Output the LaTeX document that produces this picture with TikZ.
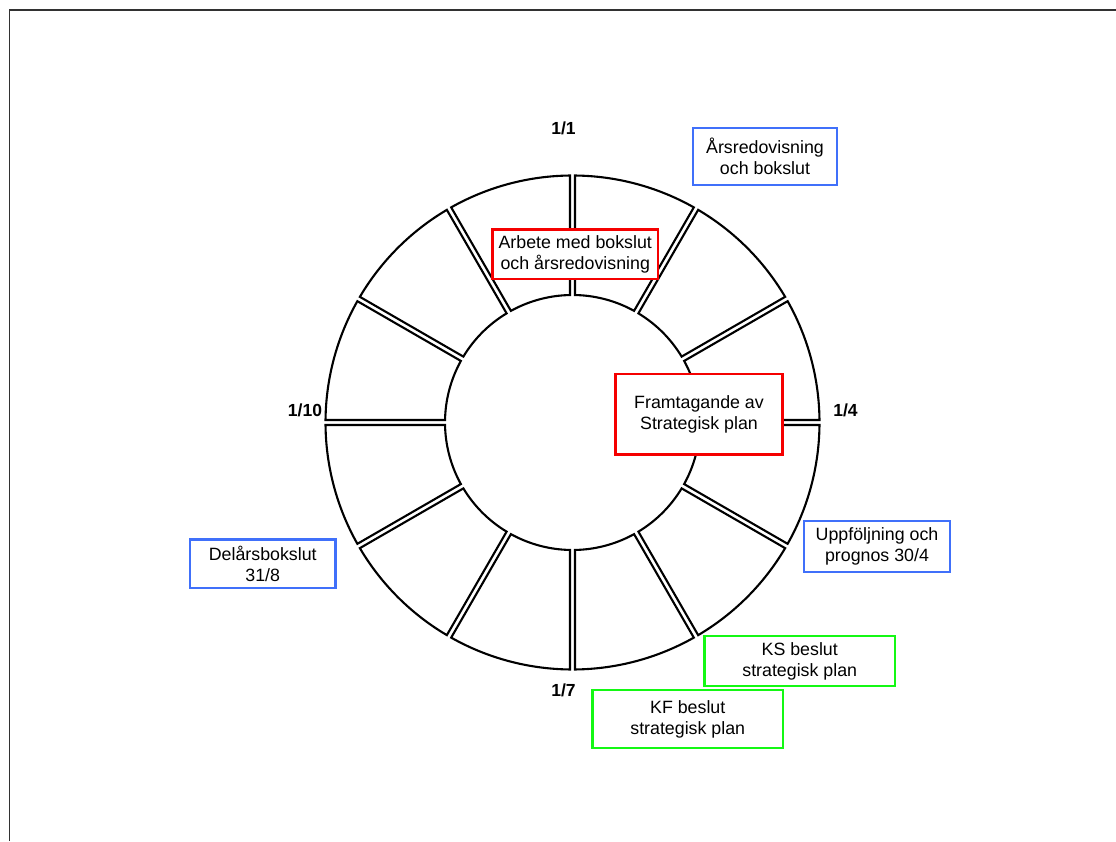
\documentclass[tikz,border=0pt]{standalone}
\usepackage{fontspec}
\setmainfont{Liberation Sans}
\definecolor{boxblue}{RGB}{64,112,250}
\definecolor{boxred}{RGB}{245,0,0}
\definecolor{boxgreen}{RGB}{20,248,20}
\definecolor{framegray}{RGB}{50,50,50}
\begin{document}
\begin{tikzpicture}[x=1pt,y=1pt,
  lbl/.style={font=\fontsize{17.8}{21}\selectfont, align=center, inner sep=0pt, fill=white, line width=2.6pt},
  bluebox/.style={lbl, draw=boxblue},
  redbox/.style={lbl, draw=boxred},
  greenbox/.style={lbl, draw=boxgreen},
  datelbl/.style={font=\fontsize{17.5}{20}\selectfont\bfseries, inner sep=0pt},
  seg/.style={draw=black, fill=white, line width=2.1pt, line join=miter}]
\useasboundingbox (0,0) rectangle (1116,841);
\fill[white] (0,0) rectangle (1116,841);
\draw[framegray, line width=1.2pt] (9.5,0) -- (9.5,831) -- (1116,831);
% ring of 12 segments
\begin{scope}[shift={(572.5,418.5)}]
  \pgfmathsetmacro{\Ro}{247}
  \pgfmathsetmacro{\Ri}{127.5}
  \pgfmathsetmacro{\dRo}{asin(2.5/247)}
  \pgfmathsetmacro{\dRi}{asin(2.5/127.5)}
  \foreach \k in {0,...,11}{
    \pgfmathsetmacro{\sa}{30*\k}
    \pgfmathsetmacro{\ea}{30*\k+30}
    \draw[seg] (\sa+\dRo:\Ro) arc[start angle=\sa+\dRo, end angle=\ea-\dRo, radius=\Ro]
      -- (\ea-\dRi:\Ri) arc[start angle=\ea-\dRi, end angle=\sa+\dRi, radius=\Ri] -- cycle;
  }
\end{scope}
% date labels
\node[datelbl] (d1) at (563.5,713) {1/1};
\node[datelbl] (d4) at (845.5,430.5) {1/4};
\node[datelbl] (d7) at (563.5,151) {1/7};
\node[datelbl] (d10) at (305,430.5) {1/10};
% boxes
\node[bluebox, minimum width=144pt, minimum height=57pt] (ars) at (765,684.5) {Årsredovisning\\och bokslut};
\node[redbox, minimum width=165.5pt, minimum height=49.5pt] (arbete) at (575.25,586.75) {Arbete med bokslut\\och årsredovisning};
\node[redbox, minimum width=167pt, minimum height=80.5pt] (fram) at (699,426.75) {Framtagande av\\Strategisk plan};
\node[bluebox, minimum width=146pt, minimum height=51pt] (upp) at (877,294.5) {Uppföljning och\\prognos 30/4};
\node[bluebox, minimum width=145.5pt, minimum height=48.5pt] (del) at (262.75,277.25) {Delårsbokslut\\31/8};
\node[greenbox, minimum width=190.5pt, minimum height=50pt] (ks) at (799.75,180) {KS beslut\\strategisk plan};
\node[greenbox, minimum width=190.5pt, minimum height=58pt] (kf) at (687.75,122) {KF beslut\\strategisk plan};
\end{tikzpicture}
\end{document}
